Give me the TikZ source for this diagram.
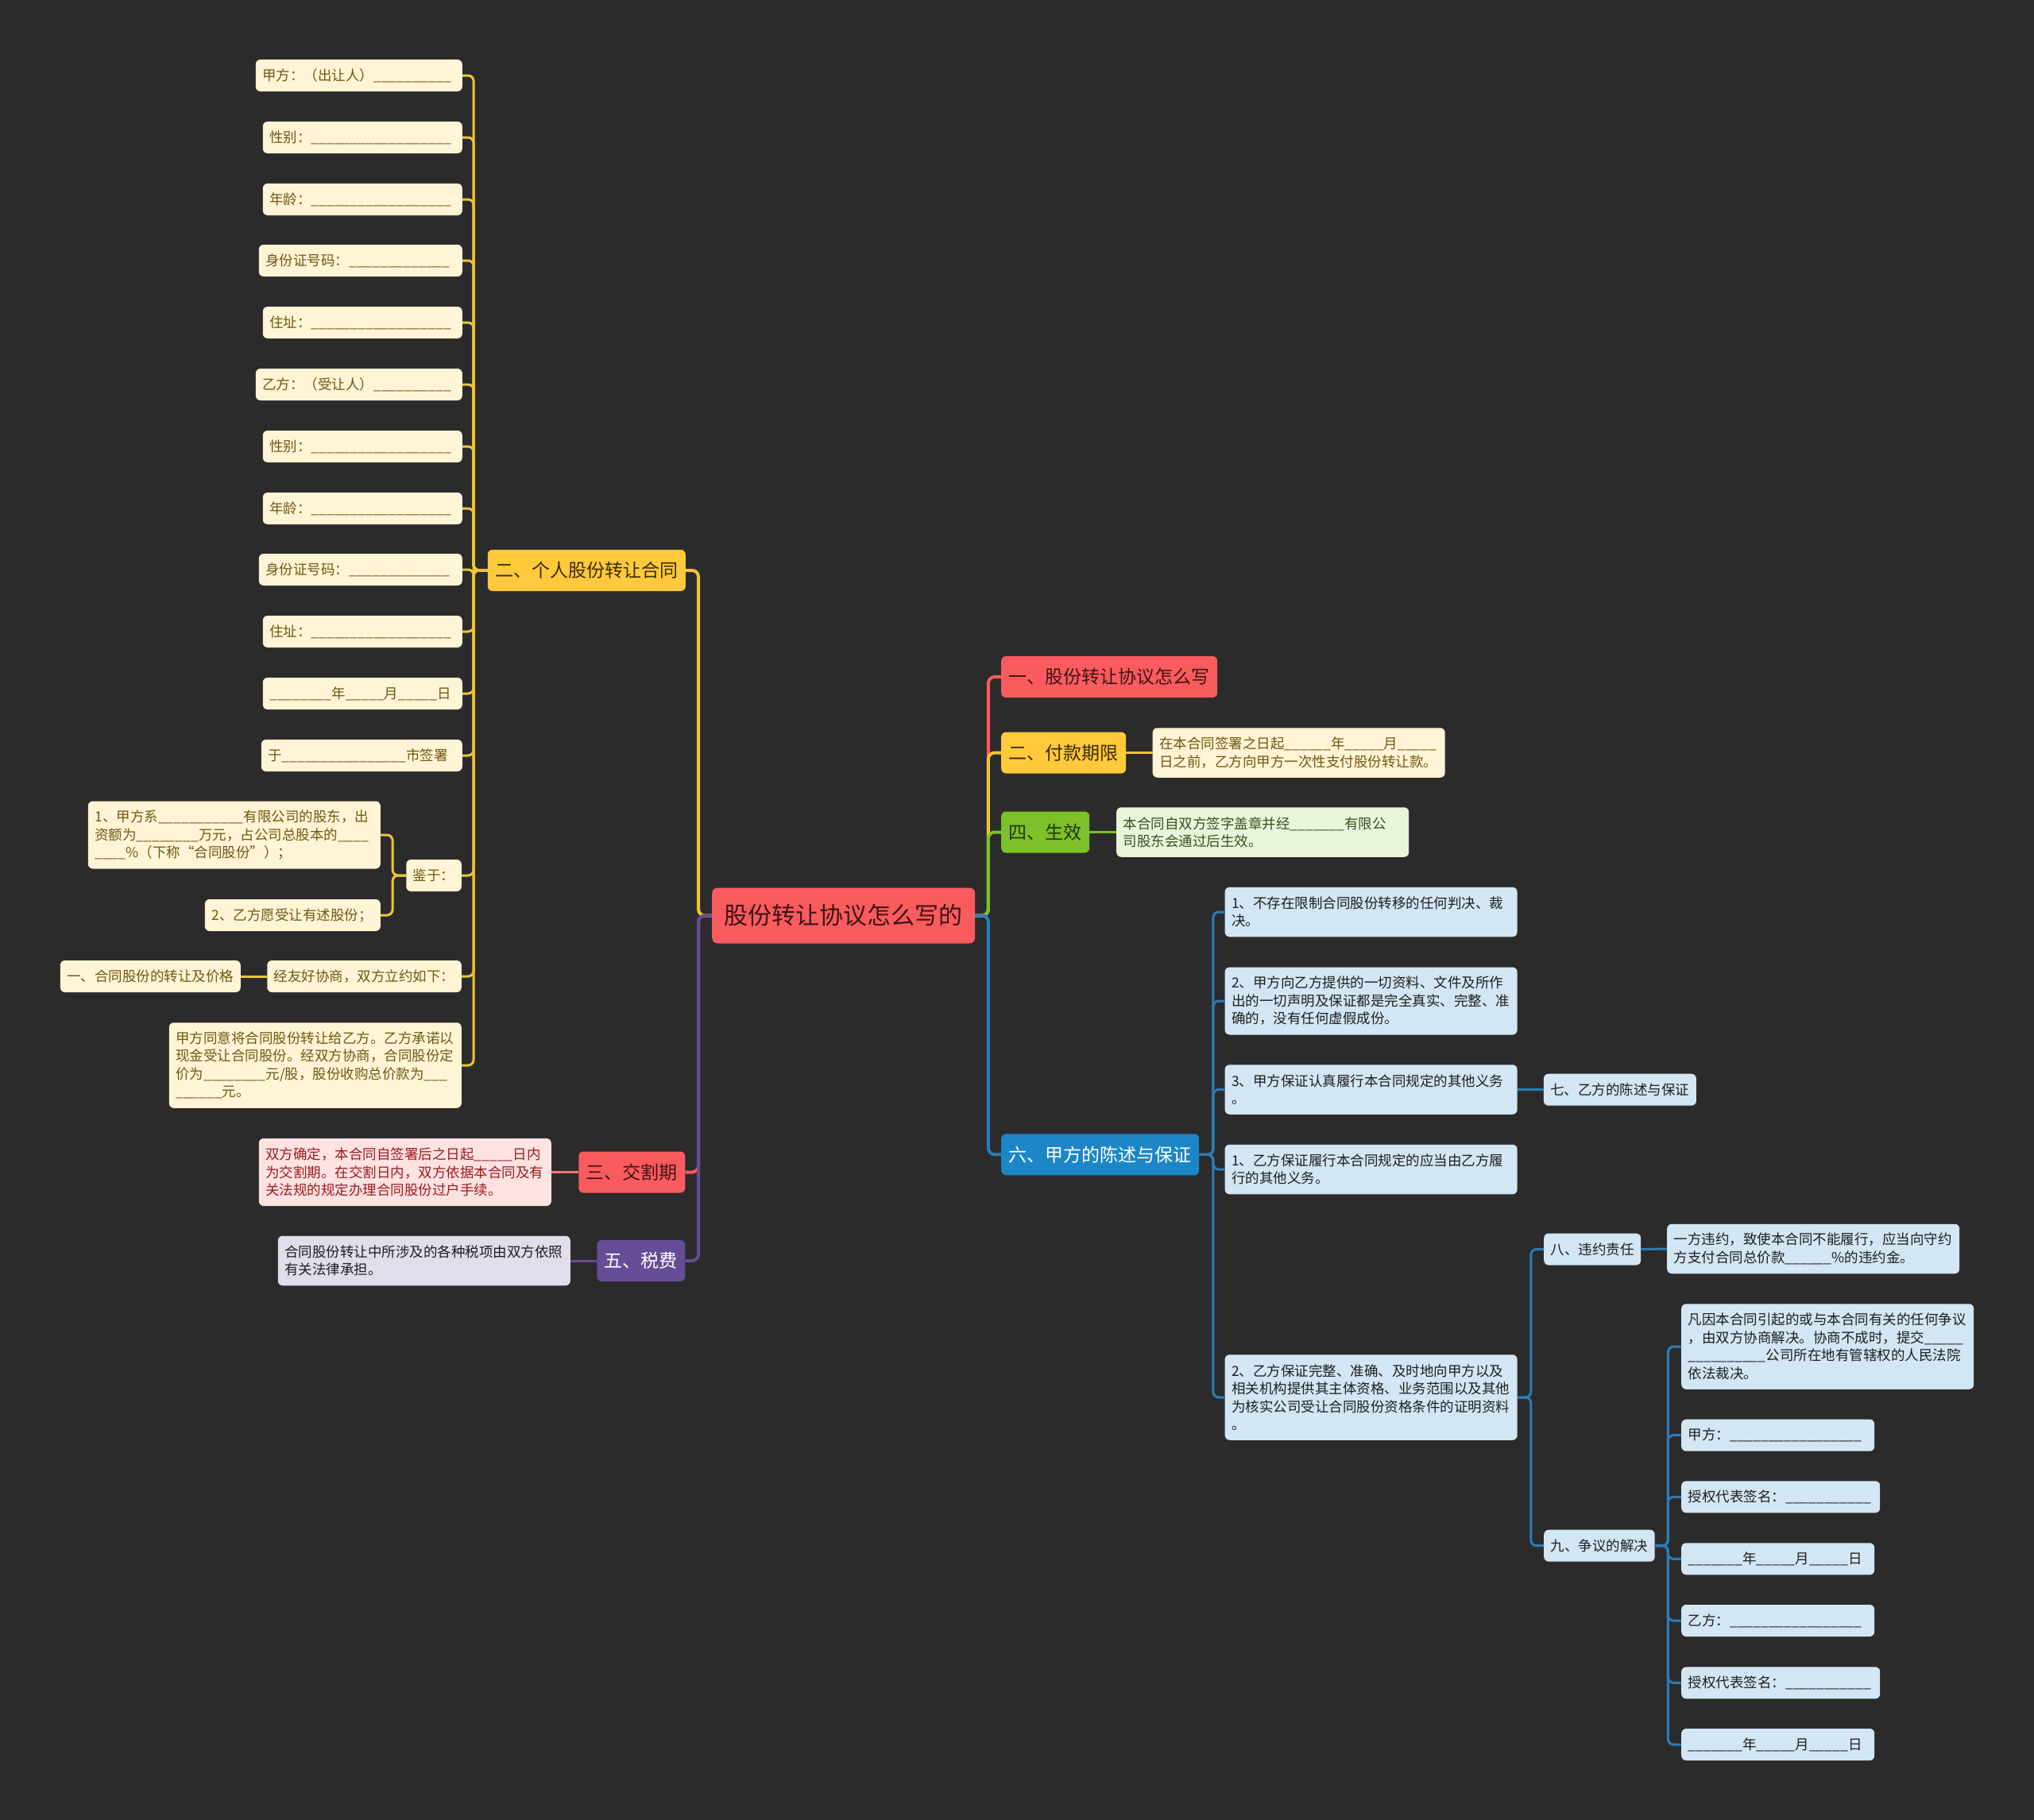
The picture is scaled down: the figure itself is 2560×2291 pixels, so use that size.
\documentclass[tikz,border=0pt]{standalone}
\usepackage{fontspec}
\setmainfont{Noto Sans CJK SC}
\usepackage{tikz}
\usetikzlibrary{positioning,calc}

\definecolor{bgdark}{HTML}{2B2B2B}
\definecolor{redmain}{HTML}{F95B5E}
\definecolor{redtext}{HTML}{3E1414}
\definecolor{redleaf}{HTML}{FFE2E2}
\definecolor{redleaftext}{HTML}{9B1C1C}
\definecolor{ymain}{HTML}{FFC93C}
\definecolor{ymaintext}{HTML}{3A2C05}
\definecolor{yline}{HTML}{F2C335}
\definecolor{yleaf}{HTML}{FFF4D5}
\definecolor{yleaftext}{HTML}{6E5715}
\definecolor{gmain}{HTML}{7CC02A}
\definecolor{gtext}{HTML}{22380A}
\definecolor{gleaf}{HTML}{E9F5DB}
\definecolor{gleaftext}{HTML}{3D4D1E}
\definecolor{pmain}{HTML}{674C97}
\definecolor{pleaf}{HTML}{E1DDEA}
\definecolor{bmain}{HTML}{1C86C6}
\definecolor{bline}{HTML}{2A7DB8}
\definecolor{bleaf}{HTML}{D3E6F3}
\definecolor{darktext}{HTML}{1E1E1E}

\newcommand{\blk}[1]{\foreach \k in {1,...,#1}{\_}}

\begin{document}
\begin{tikzpicture}[
    x=1pt, y=-1pt,
    root/.style={
        rectangle,
        rounded corners=7pt,
        fill=redmain,
        text=redtext,
        font=\fontsize{30}{36}\selectfont,
        inner xsep=15.5pt,
        minimum height=70pt
    },
    topic/.style={
        rectangle,
        rounded corners=6pt,
        font=\fontsize{23}{28}\selectfont,
        inner xsep=9.5pt,
        minimum height=52pt
    },
    leaf/.style={
        rectangle,
        rounded corners=6pt,
        font=\fontsize{17.5}{22.5}\selectfont,
        inner xsep=8.5pt,
        inner ysep=2pt,
        align=left,
        minimum height=40pt
    },
    para/.style={text width=351pt},
    l2/.style={minimum height=62.5pt},
    l3/.style={minimum height=85pt},
    l4/.style={minimum height=107.5pt},
    yleafbox/.style={leaf, fill=yleaf, text=yleaftext},
    rleafbox/.style={leaf, fill=redleaf, text=redleaftext},
    gleafbox/.style={leaf, fill=gleaf, text=gleaftext},
    pleafbox/.style={leaf, fill=pleaf, text=darktext},
    bleafbox/.style={leaf, fill=bleaf, text=darktext},
    branch/.style={line width=4pt, rounded corners=8pt},
    twig/.style={line width=3pt, rounded corners=7pt}
]

\fill[bgdark] (0,0) rectangle (2560,2291);

% ------------------------------------------------------------
% Root
% ------------------------------------------------------------

\node[root, anchor=west] (zhuti) at (896,1152.5) {股份转让协议怎么写的};

% ------------------------------------------------------------
% Left topics
% ------------------------------------------------------------

\node[topic, fill=ymain, text=ymaintext, anchor=east] (gerenhetong)
    at (863,718) {二、个人股份转让合同};
\node[topic, fill=redmain, text=redtext, anchor=east] (jiaogeqi)
    at (862.5,1475.5) {三、交割期};
\node[topic, fill=pmain, text=white, anchor=east] (shuifei)
    at (862.5,1587) {五、税费};

% ------------------------------------------------------------
% Right topics
% ------------------------------------------------------------

\node[topic, fill=redmain, text=redtext, anchor=west] (zenmexie)
    at (1260,852) {一、股份转让协议怎么写};
\node[topic, fill=ymain, text=ymaintext, anchor=west] (fukuan)
    at (1260,947.5) {二、付款期限};
\node[topic, fill=gmain, text=gtext, anchor=west] (shengxiao)
    at (1260,1047.5) {四、生效};
\node[topic, fill=bmain, text=white, anchor=west] (chenshu)
    at (1260,1453.3) {六、甲方的陈述与保证};

% ------------------------------------------------------------
% 二、个人股份转让合同 : leaves
% ------------------------------------------------------------

\node[yleafbox, text width=243pt, anchor=east] (jiafang) at (582,95) {甲方：（出让人）\blk{10}};
\node[yleafbox, text width=234pt, anchor=east] (xingbie1) at (582,173) {性别：\blk{18}};
\node[yleafbox, text width=234pt, anchor=east] (nianling1) at (582,251) {年龄：\blk{18}};
\node[yleafbox, text width=239pt, anchor=east] (shenfen1) at (582,328) {身份证号码：\blk{13}};
\node[yleafbox, text width=234pt, anchor=east] (zhuzhi1) at (582,406) {住址：\blk{18}};
\node[yleafbox, text width=243pt, anchor=east] (yifang) at (582,484) {乙方：（受让人）\blk{10}};
\node[yleafbox, text width=234pt, anchor=east] (xingbie2) at (582,562) {性别：\blk{18}};
\node[yleafbox, text width=234pt, anchor=east] (nianling2) at (582,640) {年龄：\blk{18}};
\node[yleafbox, text width=239pt, anchor=east] (shenfen2) at (582,717) {身份证号码：\blk{13}};
\node[yleafbox, text width=234pt, anchor=east] (zhuzhi2) at (582,795) {住址：\blk{18}};
\node[yleafbox, text width=234pt, anchor=east] (riqi) at (582,873) {\blk{8}年\blk{5}月\blk{5}日};
\node[yleafbox, text width=236pt, anchor=east] (qianshu) at (582,951) {于\blk{16}市签署};

\node[yleafbox, anchor=east] (jianyu) at (581,1102) {鉴于：};
\node[yleafbox, para, l3, anchor=east] (jianyu1) at (479,1051)
    {1、甲方系\blk{11}有限公司的股东，出\\资额为\blk{8}万元，占公司总股本的\blk{4}\\\blk{4}\%（下称“合同股份”）；};
\node[yleafbox, text width=204pt, anchor=east] (jianyu2) at (479,1152) {2、乙方愿受让有述股份；};

\node[yleafbox, anchor=east] (xieshang) at (581,1229) {经友好协商，双方立约如下：};
\node[yleafbox, anchor=east] (zhuanrang) at (303,1229) {一、合同股份的转让及价格};

\node[yleafbox, para, l4, anchor=east] (tongyi) at (581,1341)
    {甲方同意将合同股份转让给乙方。乙方承诺以\\现金受让合同股份。经双方协商，合同股份定\\价为\blk{8}元/股，股份收购总价款为\blk{3}\\\blk{6}元。};

% ------------------------------------------------------------
% 三、交割期 / 五、税费 : leaves
% ------------------------------------------------------------

\node[rleafbox, para, l3, anchor=east] (jiaoge1) at (694,1475.5)
    {双方确定，本合同自签署后之日起\blk{5}日内\\为交割期。在交割日内，双方依据本合同及有\\关法规的规定办理合同股份过户手续。};
\node[pleafbox, para, l2, anchor=east] (shuifei1) at (718,1587)
    {合同股份转让中所涉及的各种税项由双方依照\\有关法律承担。};

% ------------------------------------------------------------
% 二、付款期限 / 四、生效 : leaves
% ------------------------------------------------------------

\node[yleafbox, para, l2, anchor=west] (fukuan1) at (1450.5,947.5)
    {在本合同签署之日起\blk{6}年\blk{5}月\blk{5}\\日之前，乙方向甲方一次性支付股份转让款。};
\node[gleafbox, para, l2, anchor=west] (shengxiao1) at (1405,1047.5)
    {本合同自双方签字盖章并经\blk{7}有限公\\司股东会通过后生效。};

% ------------------------------------------------------------
% 六、甲方的陈述与保证 : leaves
% ------------------------------------------------------------

\node[bleafbox, para, l2, anchor=west] (baozheng1) at (1541.4,1148)
    {1、不存在限制合同股份转移的任何判决、裁\\决。};
\node[bleafbox, para, l3, anchor=west] (baozheng2) at (1541.4,1260)
    {2、甲方向乙方提供的一切资料、文件及所作\\出的一切声明及保证都是完全真实、完整、准\\确的，没有任何虚假成份。};
\node[bleafbox, para, l2, anchor=west] (baozheng3) at (1541.4,1371.5)
    {3、甲方保证认真履行本合同规定的其他义务\\。};
\node[bleafbox, para, l2, anchor=west] (baozheng4) at (1541.4,1472)
    {1、乙方保证履行本合同规定的应当由乙方履\\行的其他义务。};
\node[bleafbox, para, l4, anchor=west] (baozheng5) at (1541.4,1759)
    {2、乙方保证完整、准确、及时地向甲方以及\\相关机构提供其主体资格、业务范围以及其他\\为核实公司受让合同股份资格条件的证明资料\\。};

\node[bleafbox, anchor=west] (yifangbz) at (1942.7,1371.7) {七、乙方的陈述与保证};
\node[bleafbox, anchor=west] (weiyue) at (1943,1572.5) {八、违约责任};
\node[bleafbox, para, l2, anchor=west] (weiyue1) at (2098,1572)
    {一方违约，致使本合同不能履行，应当向守约\\方支付合同总价款\blk{6}\%的违约金。};
\node[bleafbox, anchor=west] (zhengyi) at (1943,1945.7) {九、争议的解决};

\node[bleafbox, para, l4, anchor=west] (zhengyi1) at (2116,1695)
    {凡因本合同引起的或与本合同有关的任何争议\\，由双方协商解决。协商不成时，提交\blk{5}\\\blk{10}公司所在地有管辖权的人民法院\\依法裁决。};
\node[bleafbox, text width=226pt, anchor=west] (jiaqian) at (2116,1806.7) {甲方：\blk{17}};
\node[bleafbox, text width=233pt, anchor=west] (jiadaibiao) at (2116,1884.3) {授权代表签名：\blk{11}};
\node[bleafbox, text width=226pt, anchor=west] (jiariqi) at (2116,1962.3) {\blk{7}年\blk{5}月\blk{5}日};
\node[bleafbox, text width=226pt, anchor=west] (yiqian) at (2116,2040) {乙方：\blk{17}};
\node[bleafbox, text width=233pt, anchor=west] (yidaibiao) at (2116,2118.3) {授权代表签名：\blk{11}};
\node[bleafbox, text width=226pt, anchor=west] (yiriqi) at (2116,2196) {\blk{7}年\blk{5}月\blk{5}日};

% ------------------------------------------------------------
% Root -> topics
% ------------------------------------------------------------

\draw[branch, yline] (zhuti.west) -- ++(-17,0) |- (gerenhetong.east);
\draw[branch, redmain] (zhuti.west) -- ++(-17,0) |- (jiaogeqi.east);
\draw[branch, pmain] (zhuti.west) -- ++(-17,0) |- (shuifei.east);

\draw[branch, redmain] (zhuti.east) -- ++(16.5,0) |- (zenmexie.west);
\draw[branch, yline] (zhuti.east) -- ++(16.5,0) |- (fukuan.west);
\draw[branch, gmain] (zhuti.east) -- ++(16.5,0) |- (shengxiao.west);
\draw[branch, bline] (zhuti.east) -- ++(16.5,0) |- (chenshu.west);

% ------------------------------------------------------------
% 二、个人股份转让合同 -> leaves
% ------------------------------------------------------------

\draw[twig, yline] (gerenhetong.west) -- ++(-17.5,0) |- (jiafang.east);
\draw[twig, yline] (gerenhetong.west) -- ++(-17.5,0) |- (xingbie1.east);
\draw[twig, yline] (gerenhetong.west) -- ++(-17.5,0) |- (nianling1.east);
\draw[twig, yline] (gerenhetong.west) -- ++(-17.5,0) |- (shenfen1.east);
\draw[twig, yline] (gerenhetong.west) -- ++(-17.5,0) |- (zhuzhi1.east);
\draw[twig, yline] (gerenhetong.west) -- ++(-17.5,0) |- (yifang.east);
\draw[twig, yline] (gerenhetong.west) -- ++(-17.5,0) |- (xingbie2.east);
\draw[twig, yline] (gerenhetong.west) -- ++(-17.5,0) |- (nianling2.east);
\draw[twig, yline] (gerenhetong.west) -- ++(-17.5,0) |- (shenfen2.east);
\draw[twig, yline] (gerenhetong.west) -- ++(-17.5,0) |- (zhuzhi2.east);
\draw[twig, yline] (gerenhetong.west) -- ++(-17.5,0) |- (riqi.east);
\draw[twig, yline] (gerenhetong.west) -- ++(-17.5,0) |- (qianshu.east);
\draw[twig, yline] (gerenhetong.west) -- ++(-17.5,0) |- (jianyu.east);
\draw[twig, yline] (gerenhetong.west) -- ++(-17.5,0) |- (xieshang.east);
\draw[twig, yline] (gerenhetong.west) -- ++(-17.5,0) |- (tongyi.east);

\draw[twig, yline] (jianyu.west) -- ++(-17,0) |- (jianyu1.east);
\draw[twig, yline] (jianyu.west) -- ++(-17,0) |- (jianyu2.east);
\draw[twig, yline] (xieshang.west) -- (zhuanrang.east);

% ------------------------------------------------------------
% Other topics -> leaves
% ------------------------------------------------------------

\draw[twig, redmain!85!white] (jiaogeqi.west) -- (jiaoge1.east);
\draw[twig, pmain] (shuifei.west) -- (shuifei1.east);
\draw[twig, yline] (fukuan.east) -- (fukuan1.west);
\draw[twig, gmain] (shengxiao.east) -- (shengxiao1.west);

\draw[twig, bline] (chenshu.east) -- ++(17.5,0) |- (baozheng1.west);
\draw[twig, bline] (chenshu.east) -- ++(17.5,0) |- (baozheng2.west);
\draw[twig, bline] (chenshu.east) -- ++(17.5,0) |- (baozheng3.west);
\draw[twig, bline] (chenshu.east) -- ++(17.5,0) |- (baozheng4.west);
\draw[twig, bline] (chenshu.east) -- ++(17.5,0) |- (baozheng5.west);

\draw[twig, bline] (baozheng3.east) -- (yifangbz.west);
\draw[twig, bline] (baozheng5.east) -- ++(17,0) |- (weiyue.west);
\draw[twig, bline] (baozheng5.east) -- ++(17,0) |- (zhengyi.west);
\draw[twig, bline] (weiyue.east) -- (weiyue1.west);

\draw[twig, bline] (zhengyi.east) -- ++(16.5,0) |- (zhengyi1.west);
\draw[twig, bline] (zhengyi.east) -- ++(16.5,0) |- (jiaqian.west);
\draw[twig, bline] (zhengyi.east) -- ++(16.5,0) |- (jiadaibiao.west);
\draw[twig, bline] (zhengyi.east) -- ++(16.5,0) |- (jiariqi.west);
\draw[twig, bline] (zhengyi.east) -- ++(16.5,0) |- (yiqian.west);
\draw[twig, bline] (zhengyi.east) -- ++(16.5,0) |- (yidaibiao.west);
\draw[twig, bline] (zhengyi.east) -- ++(16.5,0) |- (yiriqi.west);

\end{tikzpicture}
\end{document}
